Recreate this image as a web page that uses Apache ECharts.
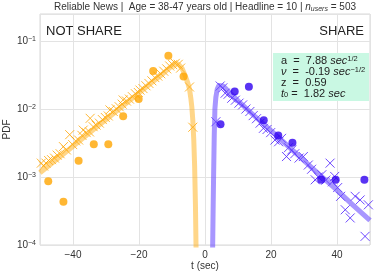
<!DOCTYPE html>
<html><head><meta charset="utf-8">
<script src="https://cdn.jsdelivr.net/npm/echarts@6/dist/echarts.min.js"></script>
<style>html,body{margin:0;padding:0;background:#fff}#c{width:374px;height:275px}</style>
</head><body><div id="c"></div>
<script>
// NOT SHARE (orange) data, t in seconds (negative)
const notShareCircles = [[-47.5,0.00087],[-42.9,0.000433],[-38.3,0.00173],[-33.7,0.00304],[-29.3,0.00304],[-24.8,0.00783],[-20.1,0.0141],[-15.7,0.0363],[-11.1,0.0608],[-6.5,0.0301]];
const notShareCrosses = [[-49.6,0.0016],[-48.9,0.00145],[-48.2,0.0016],[-47.4,0.00175],[-46.5,0.0018],[-45.6,0.0019],[-44.8,0.0021],[-43.9,0.0022],[-42.9,0.0028],[-42.0,0.0025],[-41.0,0.0042],[-40.1,0.0030],[-39.2,0.0034],[-38.3,0.0035],[-37.3,0.0041],[-36.9,0.0049],[-36.0,0.0045],[-35.0,0.0046],[-34.8,0.0073],[-33.9,0.0055],[-33.0,0.0058],[-32.0,0.0062],[-31.1,0.0070],[-30.2,0.0075],[-29.3,0.0079],[-28.8,0.0097],[-27.8,0.0092],[-26.9,0.0101],[-26.0,0.0108],[-25.1,0.0118],[-24.8,0.0136],[-23.8,0.0131],[-22.9,0.0140],[-22.0,0.0152],[-21.1,0.0168],[-20.2,0.0175],[-19.7,0.0190],[-18.8,0.0200],[-17.9,0.0220],[-17.0,0.0238],[-16.1,0.0260],[-15.2,0.0290],[-14.3,0.0305],[-13.4,0.0330],[-12.5,0.0360],[-11.6,0.0390],[-10.7,0.0430],[-9.8,0.0450],[-9.0,0.0470],[-8.1,0.0455],[-7.4,0.0400],[-4.7,0.0211],[-3.7,0.0054]];
const notShareFit = [[-50,0.00115],[-45,0.0018],[-40,0.00284],[-35,0.00446],[-30,0.0070],[-25,0.0110],[-20,0.0173],[-17,0.0228],[-15,0.0272],[-13,0.0322],[-11.5,0.0375],[-10,0.0432],[-9,0.047],[-8,0.0455],[-7,0.040],[-6,0.031],[-5.2,0.024],[-4.7,0.0198],[-4.3,0.0145],[-4.0,0.0108],[-3.7,0.0069],[-3.4,0.0035],[-3.15,0.0015],[-2.9,0.0004],[-2.7,0.00008]];
// SHARE (purple) data
const shareCircles = [[4.7,0.00598],[9.0,0.0181],[13.3,0.0213],[17.8,0.00686],[22.2,0.00409],[26.5,0.00318],[35.2,0.00091],[39.6,0.00091],[48.3,0.00091]];
const shareCrosses = [[3.3,0.0065],[4.6,0.0218],[5.4,0.0205],[6.1,0.0171],[7.0,0.0165],[8.1,0.0144],[9.2,0.0135],[10.3,0.0122],[11.4,0.0115],[12.4,0.0100],[13.6,0.0092],[14.6,0.0080],[15.6,0.0072],[16.7,0.0062],[17.7,0.0052],[18.8,0.0050],[19.9,0.0045],[21.2,0.0035],[22.3,0.0033],[23.2,0.0037],[24.7,0.0020],[25.3,0.0027],[26.3,0.0025],[27.2,0.0022],[28.5,0.0019],[29.8,0.0020],[31.3,0.0015],[32.3,0.0013],[33.4,0.00091],[34.3,0.0010],[35.4,0.00108],[36.6,0.00090],[37.9,0.0016],[38.6,0.00085],[39.3,0.00102],[40.2,0.00070],[41.1,0.00052],[42.5,0.00033],[44.0,0.00025],[45.5,0.00052],[47.0,0.00046],[48.5,0.000134],[49.5,0.00039]];
const shareFit = [[2.3,0.00008],[2.45,0.0003],[2.6,0.001],[2.8,0.004],[3.0,0.010],[3.3,0.015],[3.7,0.0195],[4.2,0.0222],[4.8,0.0226],[5.5,0.0218],[6.5,0.0195],[8,0.0165],[10,0.0132],[15,0.0079],[20,0.0048],[25,0.0029],[30,0.00174],[35,0.00105],[40,0.00064],[45,0.00038],[50,0.00023]];
// axis ticks
const xTicks = [-40,-20,0,20,40];
const yTicks = [0.0001,0.001,0.01,0.1];
// text
const titleText = 'Reliable News |  Age = 38-47 years old | Headline = 10 | ';

const FONT = 'Liberation Sans, Arial, sans-serif';
const ORANGE = '#ffa500', ORANGE_FIT = 'rgba(255,180,40,0.55)';
const BLUE = '#2f00f0', BLUE_X = '#4a1cff', BLUE_FIT = 'rgba(110,80,255,0.6)';
const crossPath = 'path://M0,0L10,10M10,0L0,10';

const chart = echarts.init(document.getElementById('c'), null, {renderer:'canvas'});
chart.setOption({
  animation:false,
  grid:{left:40,right:4,top:14,bottom:30,show:true,borderColor:'#d9d9d9',borderWidth:1,containLabel:false,outerBoundsMode:'none'},
  xAxis:{type:'value',min:-50,max:50,
    axisLine:{show:false},axisTick:{show:false},
    splitLine:{show:true,lineStyle:{color:'#e3e3e3',width:1}},
    axisLabel:{showMinLabel:false,showMaxLabel:false,color:'#333',fontSize:10,fontFamily:FONT,margin:5,
      formatter:v=>xTicks.includes(v)?String(v).replace('-','\u2212'):''},
    name:'t (sec)',nameLocation:'middle',nameGap:16,nameMoveOverlap:false,nameTextStyle:{color:'#333',fontSize:10,fontFamily:FONT}},
  yAxis:{type:'log',logBase:10,min:0.0001,max:0.25,
    axisLine:{show:false},axisTick:{show:false},
    splitLine:{show:true,lineStyle:{color:'#e3e3e3',width:1}},
    axisLabel:{showMaxLabel:false,color:'#333',fontSize:10,fontFamily:FONT,margin:4,
      formatter:v=>{const e=Math.round(Math.log10(v)); if(!yTicks.some(t=>Math.abs(Math.log10(t)-e)<1e-6)) return ''; return '10{s|'+String(e).replace('-','\u2212')+'}';},
      rich:{s:{fontSize:7,fontFamily:FONT,color:'#333',verticalAlign:'top',lineHeight:8}}},
    name:'PDF',nameLocation:'middle',nameGap:28,nameMoveOverlap:false,nameRotate:90,nameTextStyle:{color:'#333',fontSize:10,fontFamily:FONT}},
  series:[
    {type:'scatter',data:notShareCrosses,symbol:crossPath,symbolSize:9,itemStyle:{color:'none',borderColor:ORANGE,borderWidth:1},z:2},
    {type:'scatter',data:shareCrosses,symbol:crossPath,symbolSize:9,itemStyle:{color:'none',borderColor:BLUE_X,borderWidth:1},z:2},
    {type:'line',data:notShareFit,showSymbol:false,symbol:'none',lineStyle:{color:ORANGE_FIT,width:5},z:3},
    {type:'line',data:shareFit,showSymbol:false,symbol:'none',lineStyle:{color:BLUE_FIT,width:5},z:3},
    {type:'scatter',data:notShareCircles,symbol:'circle',symbolSize:8,itemStyle:{color:ORANGE},z:4},
    {type:'scatter',data:shareCircles,symbol:'circle',symbolSize:8,itemStyle:{color:BLUE},z:4}
  ],
  graphic:[
    {type:'text',x:205,y:7,style:{text:titleText+'{i|n}{sb|users} = 503',fill:'#333',font:'10px '+FONT,align:'center',verticalAlign:'middle',
      rich:{i:{fontStyle:'italic',fontSize:10,fontFamily:FONT,fill:'#333'},sb:{fontStyle:'italic',fontSize:7,fontFamily:FONT,fill:'#333',verticalAlign:'bottom',padding:[4,0,0,0]}}}},
    {type:'text',x:46,y:31,style:{text:'NOT SHARE',fill:'#222',font:'13px '+FONT,verticalAlign:'middle'}},
    {type:'text',x:364,y:31,style:{text:'SHARE',fill:'#222',font:'13px '+FONT,align:'right',verticalAlign:'middle'}},
    {type:'rect',shape:{x:273,y:53,width:96,height:48},style:{fill:'#c9f8e3'},z:10},
    {type:'text',x:281,y:55,z:11,style:{
      text:'a  =  7.88 {it|sec}{sp|1/2}\n{it|\u03bd}  =  -0.19 {it|sec}{sp|\u22121/2}\nz  =  0.59\n{it|t}{sb|0} =  1.82 {it|sec}',
      fill:'#222',font:'11px '+FONT,lineHeight:11,
      rich:{it:{fontStyle:'italic',fontSize:11,fontFamily:FONT,fill:'#222',lineHeight:11},
            sp:{fontSize:7.5,fontFamily:FONT,fill:'#222',verticalAlign:'top',lineHeight:8},
            sb:{fontSize:7.5,fontFamily:FONT,fill:'#222',verticalAlign:'bottom',lineHeight:8}}}}
  ]
});
</script></body></html>
